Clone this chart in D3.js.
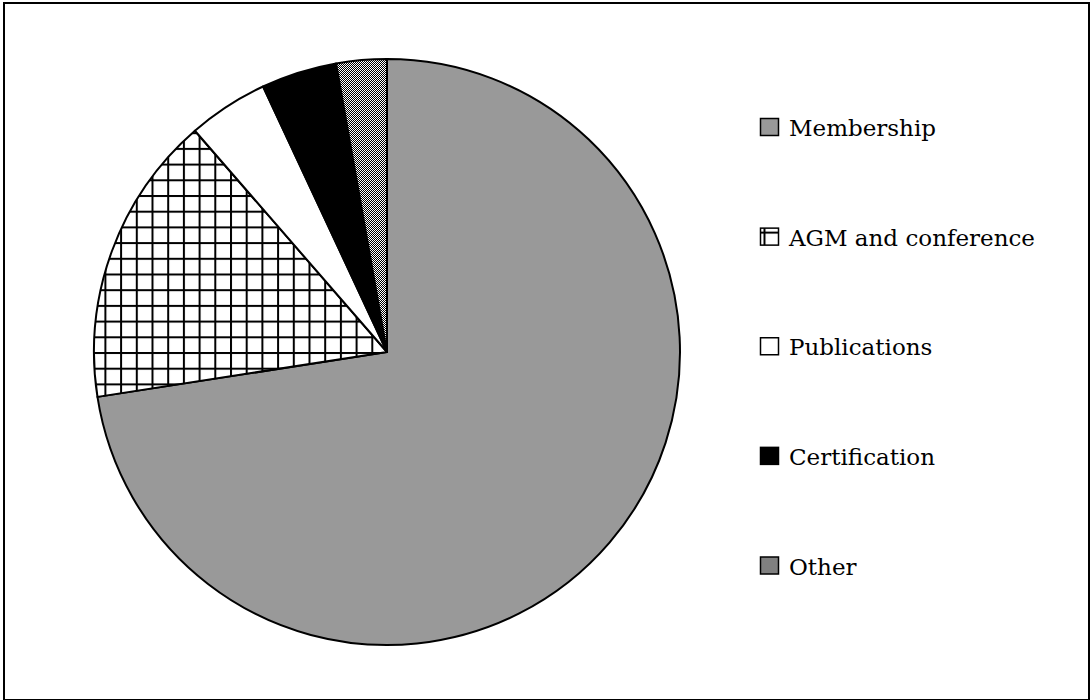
<!DOCTYPE html>
<html>
<head>
<meta charset="utf-8">
<script src="https://cdn.jsdelivr.net/npm/d3@7/dist/d3.min.js"></script>
<style>
  html, body { margin: 0; padding: 0; background: #fff; }
  svg { display: block; }
  .leg text { font-family: "DejaVu Serif", serif; }
</style>
</head>
<body>
<svg id="chart" width="1090" height="700"></svg>
<script>
const categories = ["Membership", "AGM and conference", "Publications", "Certification", "Other"];
const values = [72.56, 16.07, 4.43, 4.17, 2.78];
const fills = ["#999999", "url(#grid)", "#ffffff", "#000000", "url(#dots)"];
const legendFills = ["#999999", "url(#gridLeg)", "#ffffff", "#000000", "url(#dots)"];

const svg = d3.select("#chart");

const defs = svg.append("defs");
function makeGrid(id, ox, oy) {
  const p = defs.append("pattern").attr("id", id)
    .attr("patternUnits", "userSpaceOnUse").attr("width", 15.7).attr("height", 15.7)
    .attr("x", ox).attr("y", oy);
  p.append("rect").attr("width", 15.7).attr("height", 15.7).attr("fill", "#fff");
  p.append("rect").attr("x", 0).attr("y", 0).attr("width", 2).attr("height", 15.7).attr("fill", "#000");
  p.append("rect").attr("x", 0).attr("y", 0).attr("width", 15.7).attr("height", 2).attr("fill", "#000");
}
makeGrid("grid", 0, 0);
makeGrid("gridLeg", 3.5, -5);

const dots = defs.append("pattern").attr("id", "dots")
  .attr("patternUnits", "userSpaceOnUse").attr("width", 4).attr("height", 4);
dots.append("rect").attr("width", 4).attr("height", 4).attr("fill", "#fff");
[[0,0],[2,0],[1,1],[3,1],[0,2],[2,2],[1,3],[3,3]].forEach(([x, y]) => {
  dots.append("rect").attr("x", x).attr("y", y).attr("width", 1).attr("height", 1)
    .attr("fill", "#000").attr("shape-rendering", "crispEdges");
});

// outer border
svg.append("rect").attr("x", 4).attr("y", 3).attr("width", 1085).attr("height", 697)
  .attr("fill", "none").attr("stroke", "#000").attr("stroke-width", 2);

const cx = 387, cy = 352, r = 293;
const pie = d3.pie().sort(null).value(d => d)(values);
const arc = d3.arc().innerRadius(0).outerRadius(r);

const g = svg.append("g").attr("transform", `translate(${cx},${cy})`);
g.selectAll("path").data(pie).enter().append("path")
  .attr("d", arc)
  .attr("fill", (d, i) => fills[i])
  .attr("stroke", "#000")
  .attr("stroke-width", 2)
  .attr("stroke-linejoin", "round");

// legend
const ly = d3.scalePoint().domain(categories).range([127, 565.5]);
const leg = svg.append("g").attr("class", "leg");
const items = leg.selectAll("g").data(categories).enter().append("g")
  .attr("transform", d => `translate(760,${ly(d)})`);
items.append("rect")
  .attr("x", 0.5).attr("y", -8.5).attr("width", 18).attr("height", 17)
  .attr("fill", (d, i) => legendFills[i])
  .attr("stroke", "#000").attr("stroke-width", 1.5);
items.append("text")
  .attr("x", 29).attr("y", 9)
  .attr("font-size", 23)
  .attr("fill", "#000")
  .text(d => d);
</script>
</body>
</html>
